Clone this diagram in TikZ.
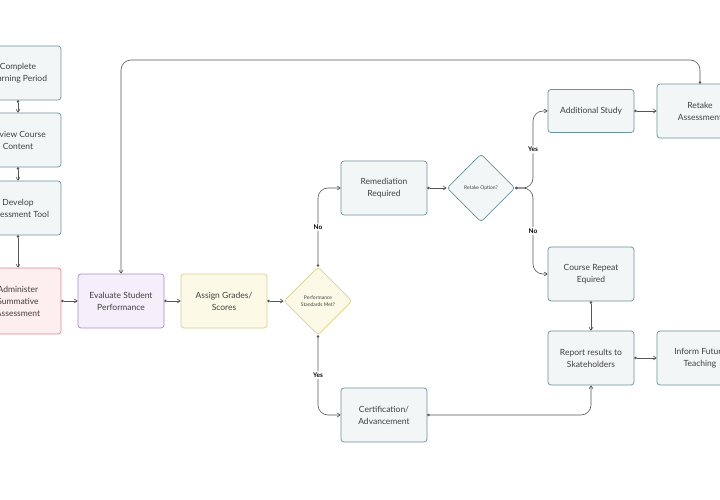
\documentclass[tikz,border=0pt]{standalone}
\usepackage{fontspec}
\setmainfont{Lato}
\usetikzlibrary{shapes.geometric,arrows.meta}
\definecolor{boxfill}{HTML}{F3F6F7}
\definecolor{boxline}{HTML}{6A909B}
\definecolor{pinkfill}{HTML}{FDEEEF}
\definecolor{pinkline}{HTML}{D98C92}
\definecolor{purpfill}{HTML}{F6EEFB}
\definecolor{purpline}{HTML}{A98BC4}
\definecolor{yelfill}{HTML}{FDF9E7}
\definecolor{yelline}{HTML}{D8D08E}
\definecolor{wire}{HTML}{555555}
\tikzset{
	stage/.style={draw=boxline, fill=boxfill, rounded corners=3pt, line width=0.7pt,
		minimum width=86pt, minimum height=54pt, align=center, font=\fontsize{8.5}{12}\selectfont, text=black!75},
	choice/.style={diamond, draw=boxline, fill=boxfill, line width=0.7pt, rounded corners=3pt,
		minimum width=68pt, minimum height=68pt, inner sep=0pt, align=center, font=\fontsize{5}{7}\selectfont, text=black!75},
	flow/.style={draw=wire, line width=0.6pt, arrows={Circle[length=2.5pt]-Straight Barb[length=3pt,width=4pt]}},
	tag/.style={fill=white, font=\bfseries\fontsize{6.5}{8}\selectfont, inner sep=1.5pt},
}
\begin{document}
\begin{tikzpicture}[x=1pt, y=-1pt]
	\useasboundingbox (0,0) rectangle (720,500);
	\clip (0,0) rectangle (720,500);

	\node[stage] (learn) at (18,73) {Complete\\Learning Period};
	\node[stage] (review) at (18,140) {Review Course\\Content};
	\node[stage] (develop) at (18,208) {Develop\\Assessment Tool};
	\node[stage, fill=pinkfill, draw=pinkline, minimum height=66pt] (admin) at (18,301) {Administer\\Summative\\Assessment};
	\node[stage, fill=purpfill, draw=purpline] (eval) at (121,301) {Evaluate Student\\Performance};
	\node[stage, fill=yelfill, draw=yelline] (grade) at (224,301) {Assign Grades/\\Scores};
	\node[choice, fill=yelfill, draw=yelline] (met) at (318,301) {Performance\\Standards Met?};
	\node[stage] (remed) at (384,188) {Remediation\\Required};
	\node[choice] (retake) at (481,188) {Retake Option?};
	\node[stage, minimum height=43pt] (study) at (591,111) {Additional Study};
	\node[stage] (again) at (700,111) {Retake\\Assessment};
	\node[stage] (repeat) at (591,274) {Course Repeat\\Equired};
	\node[stage] (report) at (591,358) {Report results to\\Skateholders};
	\node[stage] (inform) at (700,358) {Inform Future\\Teaching};
	\node[stage] (cert) at (384,415) {Certification/\\Advancement};

	\draw[flow] (learn) -- (review);
	\draw[flow] (review) -- (develop);
	\draw[flow] (develop) -- (admin);
	\draw[flow] (admin) -- (eval);
	\draw[flow] (eval) -- (grade);
	\draw[flow] (grade) -- (met);
	\draw[flow, rounded corners=10pt] (again.north) |- (121,60) -- (eval.north);
	\draw[flow, rounded corners=10pt] (met.north) -- node[tag] {No} (318,188) -- (remed.west);
	\draw[flow, rounded corners=10pt] (met.south) -- node[tag] {Yes} (318,415) -- (cert.west);
	\draw[flow, rounded corners=10pt] (cert.east) -| (report.south);
	\draw[flow] (remed) -- (retake);
	\draw[flow, rounded corners=10pt] (retake.east) -- (533,188) -- node[tag] {Yes} (533,111) -- (study.west);
	\draw[flow, rounded corners=10pt] (retake.east) -- (533,188) -- node[tag] {No} (533,274) -- (repeat.west);
	\draw[flow] (study) -- (again);
	\draw[flow] (repeat) -- (report);
	\draw[flow] (report) -- (inform);
\end{tikzpicture}
\end{document}
